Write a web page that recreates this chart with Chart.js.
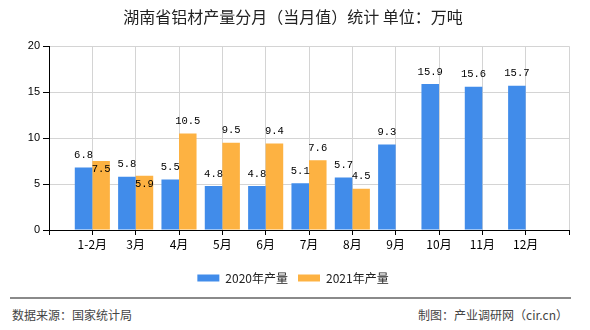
<!DOCTYPE html>
<html>
<head>
<meta charset="utf-8">
<script src="https://cdn.jsdelivr.net/npm/chart.js@4/dist/chart.umd.min.js"></script>
<style>
  html, body { margin: 0; padding: 0; background: #fff; }
  #wrap { position: relative; width: 590px; height: 330px; overflow: hidden; }
  #box { position: absolute; left: 0; top: 0; width: 590px; height: 294px; }
  #rule { position: absolute; left: 10px; top: 297px; width: 561px; height: 0; border-top: 2px solid #8a8a8a; }
  .foot { position: absolute; top: 307px; font: 12px "Noto Sans CJK SC", sans-serif; color: #444; line-height: 16px; }
  #src { left: 12px; }
  #by { right: 22px; }
</style>
</head>
<body>
<div id="wrap">
  <div id="box"><canvas id="chart"></canvas></div>
  <div id="rule"></div>
  <div class="foot" id="src">数据来源：国家统计局</div>
  <div class="foot" id="by">制图：产业调研网（cir.cn）</div>
</div>
<script>
// monthly aluminium output, Hunan (10k tonnes)
const categories = ['1-2月', '3月', '4月', '5月', '6月', '7月', '8月', '9月', '10月', '11月', '12月'];
const output2020 = [6.8, 5.8, 5.5, 4.8, 4.8, 5.1, 5.7, 9.3, 15.9, 15.6, 15.7];
const output2021 = [7.5, 5.9, 10.5, 9.5, 9.4, 7.6, 4.5, null, null, null, null];
const seriesNames = ['2020年产量', '2021年产量'];

// the axis keeps one empty slot before the first and after the last month
const padded = arr => [null, ...arr, null];

const cjk = '"Noto Sans CJK SC", sans-serif';

// value labels above the bars; a 2021 label that would hit the 2020 one goes inside its bar
const barLabels = {
  id: 'barLabels',
  afterDatasetsDraw(chart) {
    const ctx = chart.ctx;
    ctx.save();
    ctx.font = '10.5px "Liberation Mono", monospace';
    ctx.fillStyle = '#000';
    ctx.textAlign = 'center';
    ctx.textBaseline = 'middle';
    const placed = [];
    chart.data.datasets.forEach((ds, di) => {
      const meta = chart.getDatasetMeta(di);
      meta.data.forEach((bar, i) => {
        const v = ds.data[i];
        if (v == null) return;
        const text = v.toFixed(1);
        const w = ctx.measureText(text).width;
        let y = bar.y - 12;
        const prev = placed[i];
        if (prev && Math.abs(prev.y - y) < 10 && Math.abs(prev.x - bar.x) < (prev.w + w) / 2) {
          y = bar.y + 8;
        }
        ctx.fillText(text, bar.x, y);
        if (di === 0) placed[i] = { x: bar.x, y, w };
      });
    });
    ctx.restore();
  }
};

new Chart(document.getElementById('chart'), {
  type: 'bar',
  data: {
    labels: ['', ...categories, ''],
    datasets: [
      {
        label: seriesNames[0],
        data: padded(output2020),
        backgroundColor: '#418cea',
        categoryPercentage: 0.81,
        barPercentage: 1
      },
      {
        label: seriesNames[1],
        data: padded(output2021),
        backgroundColor: '#fdb242',
        categoryPercentage: 0.81,
        barPercentage: 1
      }
    ]
  },
  options: {
    responsive: true,
    maintainAspectRatio: false,
    animation: false,
    layout: {
      padding: { left: 0, right: 4, top: 0, bottom: 0 }
    },
    plugins: {
      title: {
        display: true,
        text: '湖南省铝材产量分月（当月值）统计 单位：万吨',
        color: '#222',
        font: { family: cjk, size: 16, weight: 'normal' },
        padding: { top: 7, bottom: 20 }
      },
      legend: {
        position: 'bottom',
        labels: {
          boxWidth: 22,
          boxHeight: 7,
          color: '#222',
          padding: 10,
          font: { family: cjk, size: 12 }
        }
      },
      tooltip: { enabled: false }
    },
    scales: {
      x: {
        offset: false,
        grid: {
          offset: false,
          color: '#d4d4d4',
          tickColor: '#000',
          tickLength: 5
        },
        border: { color: '#000' },
        ticks: {
          color: '#000',
          padding: 2,
          maxRotation: 0,
          autoSkip: false,
          font: { family: cjk, size: 12 }
        },
        afterFit: (scale) => { scale.height = 32; }
      },
      y: {
        min: 0,
        max: 20,
        grid: {
          color: '#d4d4d4',
          tickColor: '#000',
          tickLength: 6
        },
        border: { color: '#000' },
        ticks: {
          stepSize: 5,
          color: '#000',
          padding: 3,
          font: { family: '"Liberation Sans", sans-serif', size: 11 }
        },
        afterFit: (scale) => { scale.width = 49; }
      },
      // empty strip on the right so the title and legend stay centred on the page
      spacer: {
        position: 'right',
        min: 0,
        max: 20,
        grid: { display: false },
        border: { display: false },
        ticks: { display: false },
        afterFit: (scale) => { scale.width = 17; }
      }
    }
  },
  plugins: [barLabels]
});
</script>
</body>
</html>
